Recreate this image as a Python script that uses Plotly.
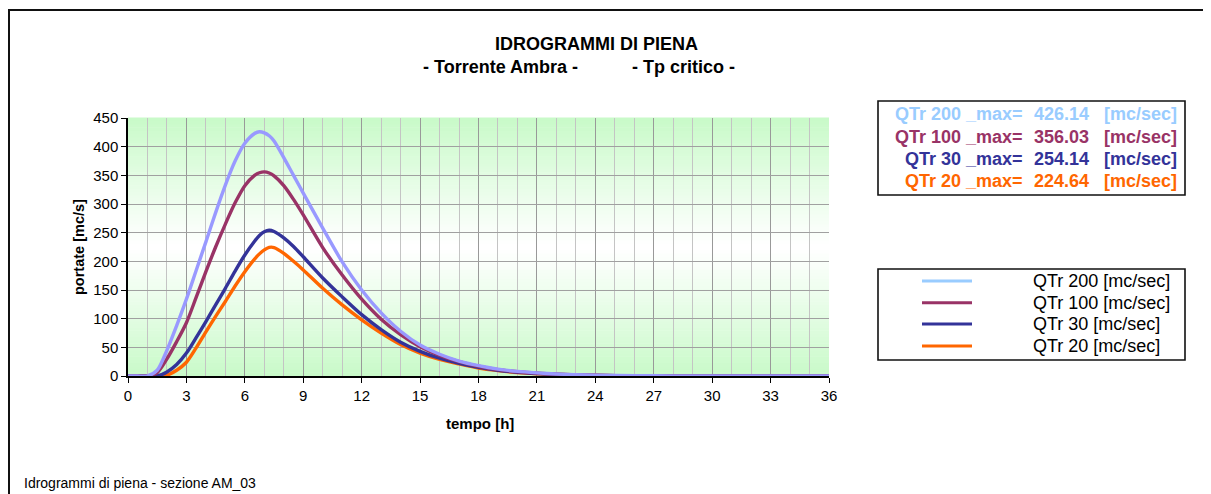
import plotly.graph_objects as go

# ---------------- data ----------------
time_h = [0, 0.5, 1, 1.5, 2, 2.5, 3, 3.5, 4, 4.5, 5, 5.5, 6, 6.5, 6.75, 7, 7.25, 7.5,
          8, 8.5, 9, 10, 11, 12, 13, 14, 15, 16, 17, 18, 19, 20, 21, 22, 23, 24,
          26, 28, 30, 33, 36]

q_tr200 = [0, 0, 0, 10, 45, 88, 134, 184, 234, 285, 333, 375, 406, 423, 426.1, 424, 419, 410,
           381, 350, 319, 258, 199, 150, 110, 78, 54, 38, 26, 18, 12, 8, 5.5, 3.5, 2.2, 1.4,
           0.5, 0.2, 0.1, 0, 0]
q_tr100 = [0, 0, 0, 6, 30, 60, 93, 137, 182, 225, 265, 302, 332, 350, 354.5, 356, 354, 349,
           332, 308, 281, 224, 176, 134, 99, 72, 51, 36, 25, 17, 11, 7.5, 5, 3.2, 2, 1.2,
           0.4, 0.15, 0.05, 0, 0]
q_tr30 = [0, 0, 0, 0, 7, 20, 40, 67, 95, 124, 153, 183, 211, 235, 245, 251.5, 254.1, 252,
          241, 226, 208, 171, 138, 107, 81, 59, 43, 31, 22, 15, 10, 6.5, 4.3, 2.8, 1.7, 1,
          0.3, 0.1, 0, 0, 0]
q_tr20 = [0, 0, 0, 0, 1.5, 10, 24, 49, 77, 104, 130, 157, 182, 204, 213, 220, 224.3, 224,
          214, 200, 185, 153, 124, 98, 75, 55, 40, 29, 21, 14, 9.5, 6, 4, 2.6, 1.6, 1,
          0.3, 0.1, 0, 0, 0]

series_names = ["QTr 200", "QTr 100", "QTr 30", "QTr 20"]
series_values = [q_tr200, q_tr100, q_tr30, q_tr20]
peak_max = ["426.14", "356.03", "254.14", "224.64"]
line_colors = ["#9999ff", "#993366", "#333399", "#ff6600"]
label_colors = ["#99ccff", "#993366", "#333399", "#ff6600"]

x_ticks = list(range(0, 37, 3))
y_ticks = list(range(0, 451, 50))

# ---------------- layout geometry ----------------
# the page body adds an 8 px offset, so the figure is 8 px smaller and
# reference pixel positions are converted relative to the plot area.
OFF = 8
W, H = 1211 - OFF, 494 - OFF
L, R, T, B = 128, 829, 118, 376          # plot area in reference pixels


def px(xp):
    return (xp - L) / (R - L)


def py(yp):
    return (B - yp) / (B - T)


FONT = "Arial, 'Liberation Sans', sans-serif"

fig = go.Figure()

# draw order: QTr 20 first, QTr 200 last (on top)
for name, vals, col in reversed(list(zip(series_names, series_values, line_colors))):
    fig.add_trace(go.Scatter(
        x=time_h, y=vals, mode="lines", name=name + " [mc/sec]",
        line=dict(color=col, width=3.4, shape="spline", smoothing=0.8),
        showlegend=False, hoverinfo="x+y+name",
    ))

shapes = []
# gradient background: green at top/bottom, white in the middle
N = 80
g0 = (200, 250, 200)
for i in range(N):
    c = (i + 0.5) / N
    t = abs(2 * c - 1) ** 1.1
    rgb = tuple(int(round(255 * (1 - t) + g * t)) for g in g0)
    shapes.append(dict(type="rect", xref="x domain", yref="y domain",
                       x0=0, x1=1, y0=i / N, y1=(i + 1) / N + 0.002,
                       fillcolor="rgb(%d,%d,%d)" % rgb, line=dict(width=0), layer="below"))

# outer chart border
shapes.append(dict(type="rect", xref="paper", yref="paper",
                   x0=px(9), x1=px(1209), y0=py(530), y1=py(10),
                   line=dict(color="#111111", width=2), fillcolor="rgba(0,0,0,0)"))

# top legend box (max values)
shapes.append(dict(type="rect", xref="paper", yref="paper",
                   x0=px(878), x1=px(1185), y0=py(195), y1=py(101),
                   line=dict(color="#111111", width=1.6), fillcolor="white"))
# bottom legend box
shapes.append(dict(type="rect", xref="paper", yref="paper",
                   x0=px(878), x1=px(1185), y0=py(360), y1=py(269),
                   line=dict(color="#111111", width=1.6), fillcolor="white"))

annotations = []
row_top = [114, 136.5, 159, 181]
row_bot = [281, 302.7, 324, 346]
for i, name in enumerate(series_names):
    col = label_colors[i]
    yy = py(row_top[i])
    annotations.append(dict(xref="paper", yref="paper", x=px(1025), y=yy, xanchor="right",
                            yanchor="middle", text="<b>%s _max=</b>" % name, showarrow=False,
                            font=dict(family=FONT, size=18, color=col)))
    annotations.append(dict(xref="paper", yref="paper", x=px(1091), y=yy, xanchor="right",
                            yanchor="middle", text="<b>%s</b>" % peak_max[i], showarrow=False,
                            font=dict(family=FONT, size=18, color=col)))
    annotations.append(dict(xref="paper", yref="paper", x=px(1102), y=yy, xanchor="left",
                            yanchor="middle", text="<b>[mc/sec]</b>", showarrow=False,
                            font=dict(family=FONT, size=18, color=col)))
    # bottom legend entries
    yb = py(row_bot[i])
    shapes.append(dict(type="line", xref="paper", yref="paper", x0=px(922), x1=px(972),
                       y0=yb, y1=yb, line=dict(color=label_colors[i], width=3)))
    annotations.append(dict(xref="paper", yref="paper", x=px(1031), y=yb, xanchor="left",
                            yanchor="middle", text="%s [mc/sec]" % name, showarrow=False,
                            font=dict(family=FONT, size=18, color="black")))

# titles
annotations.append(dict(xref="paper", yref="paper", x=px(596), y=py(44), xanchor="center",
                        yanchor="middle", text="<b>IDROGRAMMI DI PIENA</b>", showarrow=False,
                        font=dict(family=FONT, size=18, color="black")))
annotations.append(dict(xref="paper", yref="paper", x=px(500), y=py(67), xanchor="center",
                        yanchor="middle", text="<b>- Torrente Ambra -</b>", showarrow=False,
                        font=dict(family=FONT, size=18, color="black")))
annotations.append(dict(xref="paper", yref="paper", x=px(683), y=py(67), xanchor="center",
                        yanchor="middle", text="<b>- Tp critico -</b>", showarrow=False,
                        font=dict(family=FONT, size=18, color="black")))
# axis titles
annotations.append(dict(xref="paper", yref="paper", x=px(79), y=py(247), xanchor="center",
                        yanchor="middle", text="<b>portate [mc/s]</b>", textangle=-90,
                        showarrow=False, font=dict(family=FONT, size=14.5, color="black")))
annotations.append(dict(xref="paper", yref="paper", x=px(480), y=py(424), xanchor="center",
                        yanchor="middle", text="<b>tempo [h]</b>", showarrow=False,
                        font=dict(family=FONT, size=15, color="black")))
# footer
annotations.append(dict(xref="paper", yref="paper", x=px(22), y=py(483), xanchor="left",
                        yanchor="middle", text="Idrogrammi di piena - sezione AM_03",
                        showarrow=False, font=dict(family=FONT, size=14, color="black")))

fig.update_layout(
    width=W, height=H,
    margin=dict(l=L - OFF, r=W - (R - OFF), t=T - OFF, b=H - (B - OFF), pad=0),
    paper_bgcolor="white", plot_bgcolor="white",
    font=dict(family=FONT, size=15, color="black"),
    shapes=shapes, annotations=annotations,
    showlegend=False,
)
fig.update_xaxes(
    range=[0, 36], tickvals=x_ticks, ticktext=[str(v) for v in x_ticks],
    showline=True, linecolor="black", linewidth=1.5,
    ticks="outside", ticklen=5, tickcolor="black", tickwidth=1,
    showgrid=True, gridcolor="#999999", gridwidth=1, zeroline=False,
    minor=dict(dtick=1, tick0=0, showgrid=True, gridcolor="#c4c4c4", gridwidth=1, ticks=""),
    tickfont=dict(family=FONT, size=15, color="black"),
)
fig.update_yaxes(
    range=[0, 450], tickvals=y_ticks, ticktext=[str(v) for v in y_ticks],
    showline=True, linecolor="black", linewidth=1.5,
    ticks="outside", ticklen=5, tickcolor="black", tickwidth=1,
    showgrid=True, gridcolor="#a0a0a0", gridwidth=1, zeroline=False,
    tickfont=dict(family=FONT, size=15, color="black"),
)

fig.write_html("out.html")
